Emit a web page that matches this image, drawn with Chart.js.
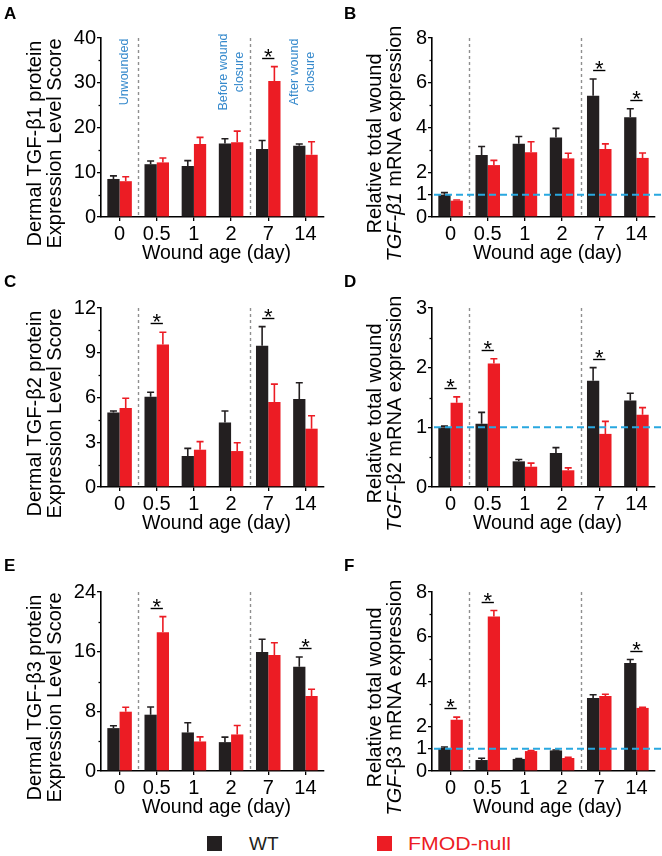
<!DOCTYPE html>
<html><head><meta charset="utf-8">
<script src="https://cdn.jsdelivr.net/npm/chart.js@4.4.1/dist/chart.umd.min.js"></script>
<style>
html,body{margin:0;padding:0;background:#fff}
body{width:662px;height:856px;position:relative;overflow:hidden;font-family:"Liberation Sans",Arial,sans-serif}
canvas{position:absolute}
.sq{position:absolute;width:15px;height:15px}
.lt{position:absolute;font-size:19px;line-height:19px}
</style></head><body>
<canvas id="cA" width="331" height="270" style="left:0;top:0"></canvas>
<canvas id="cB" width="331" height="270" style="left:331px;top:0"></canvas>
<canvas id="cC" width="331" height="270" style="left:0;top:270px"></canvas>
<canvas id="cD" width="331" height="270" style="left:331px;top:270px"></canvas>
<canvas id="cE" width="331" height="270" style="left:0;top:554px"></canvas>
<canvas id="cF" width="331" height="270" style="left:331px;top:554px"></canvas>
<div class="sq" style="left:207px;top:836px;background:#231f20"></div>
<div class="lt" style="left:249px;top:834px;color:#231f20">WT</div>
<div class="sq" style="left:377px;top:836px;background:#ec1c24"></div>
<div class="lt" style="left:408px;top:834px;color:#ec1c24;transform:scaleX(1.12);transform-origin:left center">FMOD-null</div>
<script>
// ---------- data ----------
const categories = ['0', '0.5', '1', '2', '7', '14'];
const seriesNames = ['WT', 'FMOD-null'];

// A: Dermal TGF-β1 protein
const aWT = [8.5, 11.8, 11.4, 16.4, 15.2, 15.9];
const aWTerr = [0.7, 0.7, 1.2, 1.1, 1.9, 0.4];
const aKO = [8.0, 12.2, 16.3, 16.7, 30.4, 13.9];
const aKOerr = [1.0, 1.0, 1.5, 2.5, 3.2, 2.9];
const aSig = [4];
const aTicks = [0, 10, 20, 30, 40];
const aMinor = [5, 15, 25, 35];

// B: TGF-β1 mRNA
const bWT = [1.0, 2.77, 3.27, 3.55, 5.42, 4.46];
const bWTerr = [0.09, 0.38, 0.33, 0.41, 0.75, 0.38];
const bKO = [0.73, 2.32, 2.89, 2.62, 3.04, 2.64];
const bKOerr = [0.03, 0.21, 0.47, 0.23, 0.23, 0.22];
const bSig = [4, 5];
const bTicks = [0, 1, 2, 4, 6, 8];
const bMinor = [3, 5, 7];

// C: Dermal TGF-β2 protein
const cWT = [5.0, 6.05, 2.08, 4.33, 9.47, 5.9];
const cWTerr = [0.1, 0.3, 0.51, 0.76, 1.28, 1.09];
const cKO = [5.3, 9.56, 2.5, 2.41, 5.7, 3.91];
const cKOerr = [0.65, 0.81, 0.54, 0.56, 1.2, 0.87];
const cSig = [1, 4];
const cTicks = [0, 3, 6, 9, 12];
const cMinor = [1.5, 4.5, 7.5, 10.5];

// D: TGF-β2 mRNA
const dWT = [1.0, 1.06, 0.43, 0.57, 1.78, 1.45];
const dWTerr = [0.02, 0.19, 0.03, 0.09, 0.22, 0.12];
const dKO = [1.41, 2.07, 0.34, 0.28, 0.89, 1.21];
const dKOerr = [0.1, 0.08, 0.06, 0.04, 0.21, 0.12];
const dSig = [0, 1, 4];
const dTicks = [0, 1, 2, 3];
const dMinor = [0.5, 1.5, 2.5];

// E: Dermal TGF-β3 protein
const eWT = [5.75, 7.55, 5.17, 3.87, 15.95, 13.98];
const eWTerr = [0.32, 1.04, 1.3, 0.67, 1.71, 1.3];
const eKO = [7.95, 18.6, 3.96, 4.9, 15.55, 10.07];
const eKOerr = [0.59, 2.1, 0.62, 1.2, 1.65, 0.9];
const eSig = [1, 5];
const eTicks = [0, 8, 16, 24];
const eMinor = [4, 12, 20];

// F: TGF-β3 mRNA
const fWT = [1.03, 0.49, 0.54, 0.92, 3.26, 4.83];
const fWTerr = [0.04, 0.08, 0.02, 0.02, 0.15, 0.15];
const fKO = [2.29, 6.9, 0.89, 0.58, 3.35, 2.82];
const fKOerr = [0.12, 0.27, 0.02, 0.03, 0.08, 0.03];
const fSig = [0, 1, 5];
const fTicks = [0, 1, 2, 4, 6, 8];
const fMinor = [3, 5, 7];

const xTitle = 'Wound age (day)';
const notesA = [
  {cat: 0, dx: 5, lines: ['Unwounded']},
  {cat: 3, dx: 0, lines: ['Before wound', 'closure']},
  {cat: 5, dx: -3, lines: ['After wound', 'closure']}
];

// ---------- style ----------
const FONT = '"Liberation Sans", Arial, sans-serif';
const WT_COLOR = '#231f20';
const KO_COLOR = '#ec1c24';

const panels = [
  {id: 'cA', letter: 'A', lx: 4, ly: 19, wt: aWT, wtE: aWTerr, ko: aKO, koE: aKOerr, sig: aSig, ticks: aTicks, minor: aMinor,
   title: [[['Dermal TGF-β1 protein', 0]], [['Expression Level Score', 0]]], tx: [35, 55], ref: false, notes: notesA},
  {id: 'cB', letter: 'B', lx: 13, ly: 19, wt: bWT, wtE: bWTerr, ko: bKO, koE: bKOerr, sig: bSig, ticks: bTicks, minor: bMinor,
   title: [[['Relative total wound', 0]], [['TGF-β1', 1], [' mRNA expression', 0]]], tx: [44, 64], ref: true},
  {id: 'cC', letter: 'C', lx: 4, ly: 17, wt: cWT, wtE: cWTerr, ko: cKO, koE: cKOerr, sig: cSig, ticks: cTicks, minor: cMinor,
   title: [[['Dermal TGF-β2 protein', 0]], [['Expression Level Score', 0]]], tx: [35, 55], ref: false},
  {id: 'cD', letter: 'D', lx: 13, ly: 17, wt: dWT, wtE: dWTerr, ko: dKO, koE: dKOerr, sig: dSig, ticks: dTicks, minor: dMinor,
   title: [[['Relative total wound', 0]], [['TGF-', 1], ['β2 mRNA expression', 0]]], tx: [44, 64], ref: true},
  {id: 'cE', letter: 'E', lx: 4, ly: 17, wt: eWT, wtE: eWTerr, ko: eKO, koE: eKOerr, sig: eSig, ticks: eTicks, minor: eMinor,
   title: [[['Dermal TGF-β3 protein', 0]], [['Expression Level Score', 0]]], tx: [35, 55], ref: false},
  {id: 'cF', letter: 'F', lx: 13, ly: 17, wt: fWT, wtE: fWTerr, ko: fKO, koE: fKOerr, sig: fSig, ticks: fTicks, minor: fMinor,
   title: [[['Relative total wound', 0]], [['TGF-', 1], ['β3 mRNA expression', 0]]], tx: [44, 64], ref: true}
];

const decor = {
  id: 'decor',
  beforeDatasetsDraw(chart) {
    const ctx = chart.ctx, ca = chart.chartArea, xs = chart.scales.x;
    ctx.save();
    ctx.strokeStyle = '#8f8f8f'; ctx.lineWidth = 1.4; ctx.setLineDash([3, 3]);
    [1, 4].forEach(b => {
      const x = Math.round((xs.getPixelForValue(b - 1) + xs.getPixelForValue(b)) / 2) + 0.5;
      ctx.beginPath(); ctx.moveTo(x, ca.top); ctx.lineTo(x, ca.bottom); ctx.stroke();
    });
    ctx.restore();
  },
  afterDatasetsDraw(chart) {
    const p = chart.options.plugins.decor.p;
    const ctx = chart.ctx, ca = chart.chartArea, ys = chart.scales.y;
    ctx.save();
    // error bars
    const errs = [p.wtE, p.koE], cols = [WT_COLOR, KO_COLOR];
    chart.data.datasets.forEach((ds, i) => {
      const meta = chart.getDatasetMeta(i);
      meta.data.forEach((el, j) => {
        const top = ys.getPixelForValue(ds.data[j] + errs[i][j]);
        ctx.strokeStyle = cols[i]; ctx.lineWidth = 1.6;
        ctx.beginPath();
        ctx.moveTo(el.x, el.y); ctx.lineTo(el.x, top);
        ctx.moveTo(el.x - 3.5, top); ctx.lineTo(el.x + 3.5, top);
        ctx.stroke();
      });
    });
    // reference line at 1
    if (p.ref) {
      const y = ys.getPixelForValue(1);
      ctx.strokeStyle = '#29a8e0'; ctx.lineWidth = 2; ctx.setLineDash([7, 4]);
      ctx.beginPath(); ctx.moveTo(ca.left + 2, y); ctx.lineTo(chart.width, y); ctx.stroke();
      ctx.setLineDash([]);
    }
    // significance
    const m0 = chart.getDatasetMeta(0), m1 = chart.getDatasetMeta(1);
    p.sig.forEach(j => {
      const x0 = m0.data[j].x, x1 = m1.data[j].x;
      const top = Math.min(ys.getPixelForValue(p.wt[j] + p.wtE[j]), ys.getPixelForValue(p.ko[j] + p.koE[j]));
      const ly = Math.round(top - 9) + 0.5;
      ctx.strokeStyle = '#000'; ctx.lineWidth = 1.4;
      ctx.beginPath(); ctx.moveTo(x0, ly); ctx.lineTo(x1, ly); ctx.stroke();
      ctx.fillStyle = '#000'; ctx.font = '22px ' + FONT; ctx.textAlign = 'center'; ctx.textBaseline = 'alphabetic';
      ctx.fillText('*', (x0 + x1) / 2, ly + 5);
    });
    ctx.restore();
  },
  afterDraw(chart) {
    const p = chart.options.plugins.decor.p;
    const ctx = chart.ctx, ca = chart.chartArea, ys = chart.scales.y, xs = chart.scales.x;
    ctx.save();
    // minor ticks
    ctx.strokeStyle = '#000'; ctx.lineWidth = 1.3;
    p.minor.forEach(v => {
      const y = Math.round(ys.getPixelForValue(v)) + 0.5;
      ctx.beginPath(); ctx.moveTo(ca.left - 2.5, y); ctx.lineTo(ca.left, y); ctx.stroke();
    });
    // x title
    ctx.fillStyle = '#000'; ctx.font = '19.5px ' + FONT; ctx.textAlign = 'center'; ctx.textBaseline = 'alphabetic';
    ctx.fillText(xTitle, (ca.left + ca.right) / 2 + 4, ca.bottom + 42);
    // y title (rotated, mixed italic)
    const cy = (ca.top + ca.bottom) / 2 + 16;
    p.title.forEach((segs, li) => {
      ctx.save();
      ctx.translate(p.tx[li], cy);
      ctx.rotate(-Math.PI / 2);
      ctx.textBaseline = 'middle'; ctx.textAlign = 'left';
      let total = 0;
      segs.forEach(s => { ctx.font = (s[1] ? 'italic ' : '') + '20px ' + FONT; total += ctx.measureText(s[0]).width; });
      let x = -total / 2;
      segs.forEach(s => {
        ctx.font = (s[1] ? 'italic ' : '') + '20px ' + FONT;
        ctx.fillText(s[0], x, 0);
        x += ctx.measureText(s[0]).width;
      });
      ctx.restore();
    });
    // panel letter
    ctx.font = 'bold 17px ' + FONT; ctx.textAlign = 'left'; ctx.textBaseline = 'alphabetic';
    ctx.fillText(p.letter, p.lx, p.ly);
    // notes (panel A)
    if (p.notes) {
      ctx.fillStyle = '#3589cc'; ctx.font = '12.5px ' + FONT;
      p.notes.forEach(n => {
        const cx = xs.getPixelForValue(n.cat) + n.dx;
        n.lines.forEach((t, k) => {
          const x = cx + (k - (n.lines.length - 1) / 2) * 16;
          ctx.save(); ctx.translate(x, ca.top + 34); ctx.rotate(-Math.PI / 2);
          ctx.textAlign = 'center'; ctx.textBaseline = 'middle';
          ctx.fillText(t, 0, 0); ctx.restore();
        });
      });
    }
    ctx.restore();
  }
};

panels.forEach(p => {
  new Chart(document.getElementById(p.id), {
    type: 'bar',
    data: {
      labels: categories,
      datasets: [
        {label: seriesNames[0], data: p.wt, backgroundColor: WT_COLOR, borderWidth: 0},
        {label: seriesNames[1], data: p.ko, backgroundColor: KO_COLOR, borderWidth: 0}
      ]
    },
    options: {
      responsive: false, animation: false, devicePixelRatio: 1,
      layout: {padding: {top: 38, right: 7, left: 0, bottom: 0}},
      datasets: {bar: {categoryPercentage: 0.66, barPercentage: 1.0}},
      plugins: {legend: {display: false}, tooltip: {enabled: false}, decor: {p: p}},
      scales: {
        x: {
          offset: true,
          grid: {display: true, drawOnChartArea: false, drawTicks: true, tickLength: 4, offset: false, color: '#000', lineWidth: 1.3},
          border: {display: true, color: '#000', width: 1.6},
          ticks: {color: '#000', font: {family: FONT, size: 20}, padding: 1, maxRotation: 0, autoSkip: false},
          afterFit: s => { s.height = 53; }
        },
        y: {
          min: 0, max: p.ticks[p.ticks.length - 1],
          afterBuildTicks: s => { s.ticks = p.ticks.map(v => ({value: v})); },
          grid: {display: true, drawOnChartArea: false, drawTicks: true, tickLength: 4, color: '#000', lineWidth: 1.3},
          border: {display: true, color: '#000', width: 1.6},
          ticks: {color: '#000', font: {family: FONT, size: 20}, padding: 1, autoSkip: false},
          afterFit: s => { s.width = 101; }
        }
      }
    },
    plugins: [decor]
  });
});
</script>
</body></html>
